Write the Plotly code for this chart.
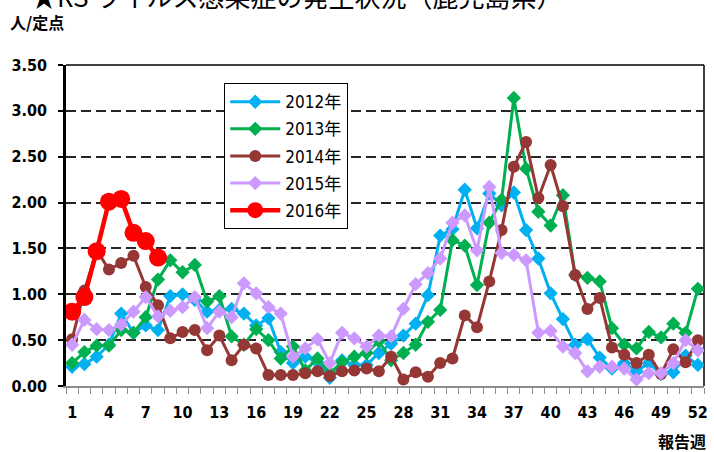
import plotly.graph_objects as go

weeks = list(range(1, 53))
tick_weeks = list(range(1, 53, 3))
tick_labels = [str(w) for w in tick_weeks]

y2012 = [0.21, 0.24, 0.32, 0.45, 0.79, 0.58, 0.66, 0.61, 0.98, 1.00, 0.94, 0.81, 0.83, 0.84, 0.79, 0.66,
         0.74, 0.37, 0.25, 0.32, 0.26, 0.09, 0.28, 0.23, 0.23, 0.36, 0.46, 0.55, 0.68, 0.99, 1.64, 1.71,
         2.14, 1.72, 2.10, 1.97, 2.11, 1.70, 1.39, 1.01, 0.73, 0.45, 0.51, 0.31, 0.19, 0.25, 0.16, 0.25,
         0.13, 0.15, 0.33, 0.23]
y2013 = [0.25, 0.37, 0.44, 0.44, 0.61, 0.58, 0.75, 1.16, 1.37, 1.24, 1.32, 0.92, 0.98, 0.54, 0.45, 0.62,
         0.50, 0.30, 0.43, 0.17, 0.30, 0.14, 0.26, 0.32, 0.36, 0.49, 0.28, 0.36, 0.45, 0.70, 0.83, 1.59,
         1.53, 1.10, 1.78, 2.03, 3.14, 2.37, 1.90, 1.75, 2.08, 1.21, 1.18, 1.14, 0.63, 0.45, 0.41, 0.59,
         0.53, 0.68, 0.58, 1.06]
y2014 = [0.51, 1.04, 1.48, 1.27, 1.34, 1.42, 1.08, 0.88, 0.52, 0.59, 0.61, 0.39, 0.55, 0.28, 0.45, 0.41,
         0.12, 0.12, 0.12, 0.14, 0.16, 0.11, 0.16, 0.17, 0.19, 0.16, 0.32, 0.07, 0.15, 0.10, 0.25, 0.30,
         0.77, 0.64, 1.14, 1.70, 2.39, 2.66, 2.05, 2.41, 1.96, 1.21, 0.84, 0.96, 0.42, 0.34, 0.25, 0.34,
         0.13, 0.40, 0.26, 0.50]
y2015 = [0.45, 0.72, 0.62, 0.61, 0.67, 0.81, 0.97, 0.76, 0.82, 0.86, 0.97, 0.63, 0.81, 0.75, 1.12, 1.01,
         0.86, 0.79, 0.32, 0.41, 0.51, 0.25, 0.58, 0.52, 0.43, 0.55, 0.54, 0.84, 1.11, 1.23, 1.39, 1.78,
         1.86, 1.48, 2.17, 1.45, 1.43, 1.37, 0.58, 0.60, 0.43, 0.36, 0.16, 0.21, 0.21, 0.19, 0.07, 0.14,
         0.14, 0.25, 0.50, 0.39]
y2016 = [0.81, 0.97, 1.47, 2.01, 2.04, 1.67, 1.58, 1.40]

series = [
    ("2012年", y2012, "#00B0F0", "diamond", 11, 3),
    ("2013年", y2013, "#00B050", "diamond", 11, 3),
    ("2014年", y2014, "#953735", "circle", 12, 3),
    ("2015年", y2015, "#CC99FF", "diamond", 11, 3),
    ("2016年", y2016, "#FF0000", "circle", 18, 4.5),
]

NUM_FONT = "DejaVu Sans Condensed, Noto Sans CJK JP"
CJK_FONT = "Noto Sans CJK JP"

fig = go.Figure()
for i, (name, ys, color, symbol, msize, lw) in enumerate(series):
    fig.add_trace(go.Scatter(
        x=weeks[:len(ys)], y=ys, name=name, mode="lines+markers",
        line=dict(color=color, width=lw),
        marker=dict(color=color, symbol=symbol, size=msize),
        legendgroup=str(i),
    ))

fig.update_layout(
    width=714, height=452,
    margin=dict(l=66, r=6, t=65, b=66),
    plot_bgcolor="white", paper_bgcolor="white",
    legend=dict(
        x=0.2477, y=0.944, xanchor="left", yanchor="top",
        bgcolor="white", bordercolor="black", borderwidth=1.2,
        font=dict(family=NUM_FONT, size=17, color="black"),
        tracegroupgap=2, itemwidth=50,
    ),
    showlegend=True,
)

fig.update_xaxes(
    range=[0.5, 52.5],
    tickmode="array", tickvals=tick_weeks, ticktext=tick_labels,
    ticks="", ticklabelstandoff=11,
    tickfont=dict(family=NUM_FONT, size=16, color="black", weight="bold"),
    showline=True, linecolor="#8c8c8c", linewidth=1.5,
    showgrid=False, zeroline=False,
    minor=dict(ticks="outside", tick0=0.5, dtick=1, ticklen=6, tickcolor="#8c8c8c", tickwidth=1.2, showgrid=False),
)
fig.update_yaxes(
    range=[0, 3.5], dtick=0.5, tick0=0, tickformat=".2f",
    ticks="outside", ticklen=5, tickcolor="black", tickwidth=1.5,
    ticklabelstandoff=8,
    tickfont=dict(family=NUM_FONT, size=16, color="black", weight="bold"),
    showline=True, linecolor="black", linewidth=2.5,
    showgrid=True, gridcolor="#262626", gridwidth=1.5, griddash="10px,5px",
    zeroline=False,
)

# plot-area frame (top and right)
fig.add_shape(type="line", xref="paper", yref="paper", x0=0, x1=1, y0=1, y1=1,
              line=dict(color="black", width=1.5), layer="below")
fig.add_shape(type="line", xref="paper", yref="paper", x0=1, x1=1, y0=0, y1=1,
              line=dict(color="black", width=1.5), layer="below")

fig.add_annotation(text="★RS ウイルス感染症の発生状況（鹿児島県）", xref="paper", yref="paper",
                   x=-0.058, y=1.215, xanchor="left", yanchor="middle", showarrow=False,
                   font=dict(family=CJK_FONT, size=26, color="black"))
fig.add_annotation(text="<b>人/定点</b>", xref="paper", yref="paper",
                   x=-0.091, y=1.134, xanchor="left", yanchor="middle", showarrow=False,
                   font=dict(family=CJK_FONT, size=16, color="black"))
fig.add_annotation(text="<b>報告週</b>", xref="paper", yref="paper",
                   x=1.006, y=-0.172, xanchor="right", yanchor="middle", showarrow=False,
                   font=dict(family=CJK_FONT, size=16, color="black"))

fig.write_html("out.html", config={"displayModeBar": False},
               post_script="document.body.style.margin='0';document.body.style.overflow='hidden';")
